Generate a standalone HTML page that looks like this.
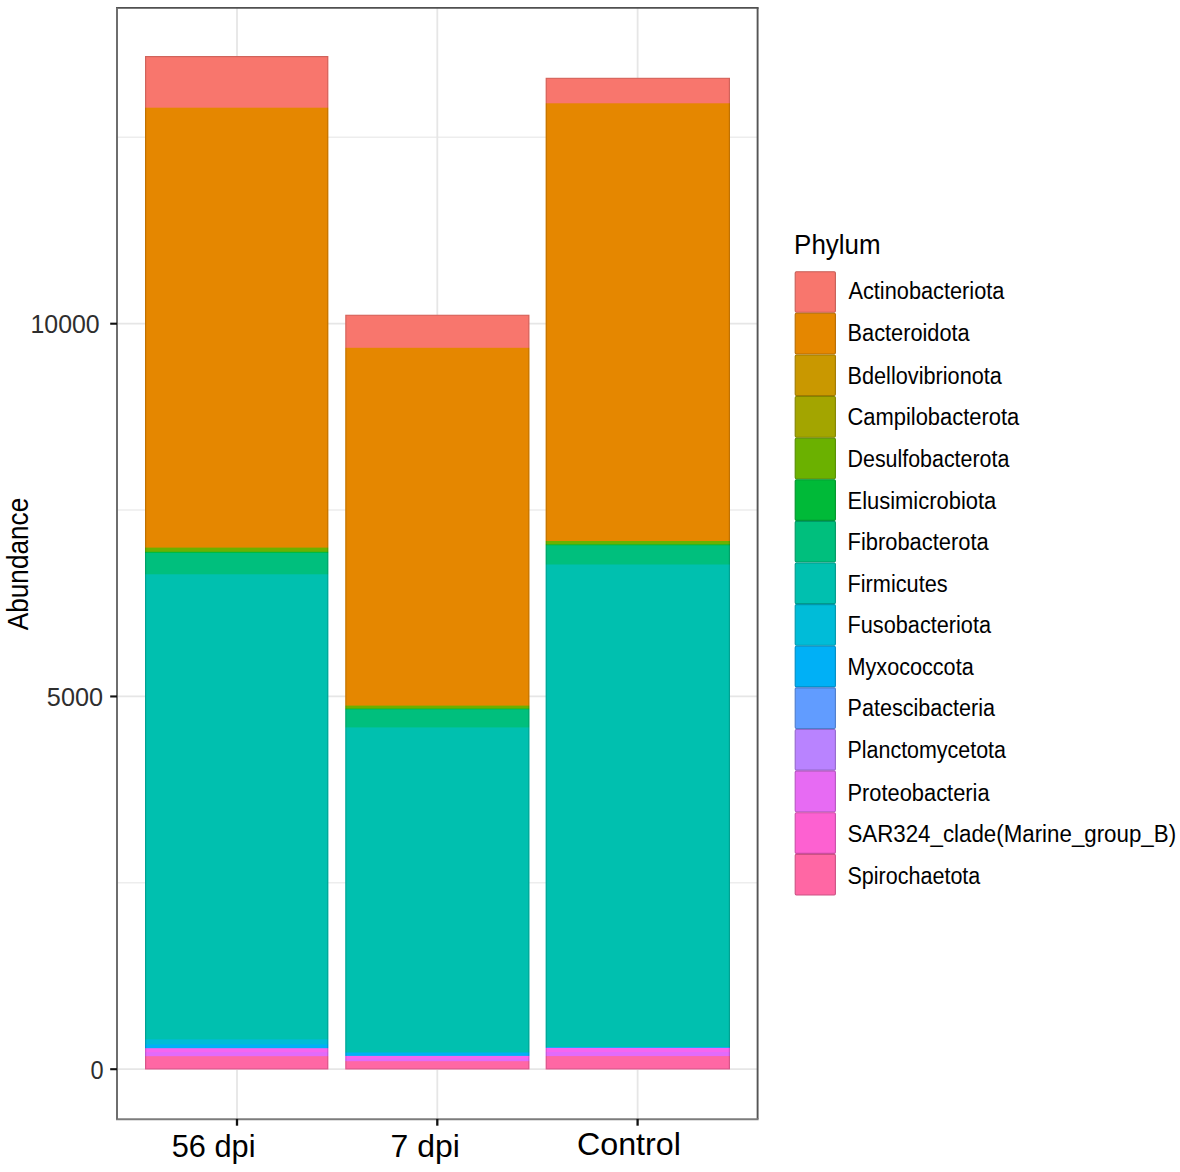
<!DOCTYPE html><html><head><meta charset="utf-8"><style>html,body{margin:0;padding:0;background:#fff;}svg{display:block;}text{font-family:"Liberation Sans",sans-serif;}</style></head><body>
<svg width="1180" height="1172" viewBox="0 0 1180 1172">
<rect x="0" y="0" width="1180" height="1172" fill="#ffffff"/>
<line x1="117.0" x2="757.6" y1="882.83" y2="882.83" stroke="#EDEDED" stroke-width="1.5"/>
<line x1="117.0" x2="757.6" y1="510.08" y2="510.08" stroke="#EDEDED" stroke-width="1.5"/>
<line x1="117.0" x2="757.6" y1="137.33" y2="137.33" stroke="#EDEDED" stroke-width="1.5"/>
<line x1="117.0" x2="757.6" y1="1069.20" y2="1069.20" stroke="#E6E6E6" stroke-width="1.8"/>
<line x1="117.0" x2="757.6" y1="696.45" y2="696.45" stroke="#E6E6E6" stroke-width="1.8"/>
<line x1="117.0" x2="757.6" y1="323.70" y2="323.70" stroke="#E6E6E6" stroke-width="1.8"/>
<line x1="237.0" x2="237.0" y1="7.8" y2="1118.9" stroke="#E6E6E6" stroke-width="1.8"/>
<line x1="437.3" x2="437.3" y1="7.8" y2="1118.9" stroke="#E6E6E6" stroke-width="1.8"/>
<line x1="637.6" x2="637.6" y1="7.8" y2="1118.9" stroke="#E6E6E6" stroke-width="1.8"/>
<clipPath id="cb0"><rect x="145.0" y="56.0" width="183.40" height="1013.60"/></clipPath>
<g clip-path="url(#cb0)" opacity="0.999">
<rect x="142.0" y="56.0" width="189.40" height="1016.60" fill="#F8766D"/>
<rect x="142.0" y="107.7" width="189.40" height="964.90" fill="#E58700"/>
<rect x="142.0" y="547.6" width="189.40" height="525.00" fill="#6BB100"/>
<rect x="142.0" y="551.8" width="189.40" height="520.80" fill="#00BA38"/>
<rect x="142.0" y="552.9" width="189.40" height="519.70" fill="#00BF7D"/>
<rect x="142.0" y="574.3" width="189.40" height="498.30" fill="#00C0AF"/>
<rect x="142.0" y="1039.3" width="189.40" height="33.30" fill="#00BCD8"/>
<rect x="142.0" y="1044.5" width="189.40" height="28.10" fill="#00B0F6"/>
<rect x="142.0" y="1048.2" width="189.40" height="24.40" fill="#F566F0"/>
<rect x="142.0" y="1052.2" width="189.40" height="20.40" fill="#E26BFA"/>
<rect x="142.0" y="1056.2" width="189.40" height="16.40" fill="#FF67A4"/>
<rect x="145.6" y="56.6" width="182.20" height="1012.40" fill="none" stroke="rgba(0,0,0,0.16)" stroke-width="1.2"/>
</g>
<clipPath id="cb1"><rect x="345.2" y="314.5" width="184.30" height="755.10"/></clipPath>
<g clip-path="url(#cb1)" opacity="0.999">
<rect x="342.2" y="314.5" width="190.30" height="758.10" fill="#F8766D"/>
<rect x="342.2" y="347.8" width="190.30" height="724.80" fill="#E58700"/>
<rect x="342.2" y="705.6" width="190.30" height="367.00" fill="#6BB100"/>
<rect x="342.2" y="708.6" width="190.30" height="364.00" fill="#00BA38"/>
<rect x="342.2" y="709.4" width="190.30" height="363.20" fill="#00BF7D"/>
<rect x="342.2" y="727.4" width="190.30" height="345.20" fill="#00C0AF"/>
<rect x="342.2" y="1052.5" width="190.30" height="20.10" fill="#00B0F6"/>
<rect x="342.2" y="1055.9" width="190.30" height="16.70" fill="#F566F0"/>
<rect x="342.2" y="1058.6" width="190.30" height="14.00" fill="#E26BFA"/>
<rect x="342.2" y="1061.2" width="190.30" height="11.40" fill="#FF67A4"/>
<rect x="345.8" y="315.1" width="183.10" height="753.90" fill="none" stroke="rgba(0,0,0,0.16)" stroke-width="1.2"/>
</g>
<clipPath id="cb2"><rect x="545.6" y="77.6" width="184.40" height="992.00"/></clipPath>
<g clip-path="url(#cb2)" opacity="0.999">
<rect x="542.6" y="77.6" width="190.40" height="995.00" fill="#F8766D"/>
<rect x="542.6" y="103.3" width="190.40" height="969.30" fill="#E58700"/>
<rect x="542.6" y="541.0" width="190.40" height="531.60" fill="#6BB100"/>
<rect x="542.6" y="544.4" width="190.40" height="528.20" fill="#00BA38"/>
<rect x="542.6" y="545.3" width="190.40" height="527.30" fill="#00BF7D"/>
<rect x="542.6" y="564.5" width="190.40" height="508.10" fill="#00C0AF"/>
<rect x="542.6" y="1047.0" width="190.40" height="25.60" fill="#00B0F6"/>
<rect x="542.6" y="1047.9" width="190.40" height="24.70" fill="#F566F0"/>
<rect x="542.6" y="1052.0" width="190.40" height="20.60" fill="#E26BFA"/>
<rect x="542.6" y="1056.1" width="190.40" height="16.50" fill="#FF67A4"/>
<rect x="546.2" y="78.19999999999999" width="183.20" height="990.80" fill="none" stroke="rgba(0,0,0,0.16)" stroke-width="1.2"/>
</g>
<line x1="116.0" x2="758.6" y1="7.8" y2="7.8" stroke="#505050" stroke-width="1.8"/>
<line x1="757.6" x2="757.6" y1="7.8" y2="1118.9" stroke="#555555" stroke-width="1.9"/>
<line x1="116.0" x2="758.6" y1="1119.2" y2="1119.2" stroke="#7c7c7c" stroke-width="2"/>
<line x1="117.0" x2="117.0" y1="7.8" y2="1118.9" stroke="#6e6e6e" stroke-width="2"/>
<line x1="110.2" x2="117.0" y1="1069.20" y2="1069.20" stroke="#111111" stroke-width="2.1"/>
<line x1="110.2" x2="117.0" y1="696.45" y2="696.45" stroke="#111111" stroke-width="2.1"/>
<line x1="110.2" x2="117.0" y1="323.70" y2="323.70" stroke="#111111" stroke-width="2.1"/>
<line x1="237.0" x2="237.0" y1="1118.9" y2="1125.7" stroke="#111111" stroke-width="2.3"/>
<line x1="437.3" x2="437.3" y1="1118.9" y2="1125.7" stroke="#111111" stroke-width="2.3"/>
<line x1="637.6" x2="637.6" y1="1118.9" y2="1125.7" stroke="#111111" stroke-width="2.3"/>
<text id="y0" x="90.45" y="1078.8" font-size="25" fill="#2E2E2E" text-anchor="start" textLength="13.10" lengthAdjust="spacingAndGlyphs">0</text>
<text id="y5000" x="46.85" y="706.1" font-size="25" fill="#2E2E2E" text-anchor="start" textLength="56.15" lengthAdjust="spacingAndGlyphs">5000</text>
<text id="y10000" x="30.47" y="333.3" font-size="25" fill="#2E2E2E" text-anchor="start" textLength="69.22" lengthAdjust="spacingAndGlyphs">10000</text>
<text id="x1" x="171.78" y="1156.6" font-size="31" fill="#000" text-anchor="start" textLength="83.74" lengthAdjust="spacingAndGlyphs">56 dpi</text>
<text id="x2" x="390.51" y="1156.6" font-size="31" fill="#000" text-anchor="start" textLength="69.27" lengthAdjust="spacingAndGlyphs">7 dpi</text>
<text id="x3" x="576.96" y="1155.1" font-size="31" fill="#000" text-anchor="start" textLength="103.90" lengthAdjust="spacingAndGlyphs">Control</text>
<text id="ytitle" x="0" y="0" font-size="29" fill="#000" text-anchor="middle" textLength="132.58" lengthAdjust="spacingAndGlyphs" transform="translate(27.8,564) rotate(-90)">Abundance</text>
<text id="phylum" x="794.09" y="253.5" font-size="27" fill="#000" text-anchor="start" textLength="86.47" lengthAdjust="spacingAndGlyphs">Phylum</text>
<rect x="795.2" y="271.70" width="40.2" height="40.62" rx="1.2" fill="#F8766D" stroke="#c65e57" stroke-width="1.1"/>
<rect x="795.2" y="313.32" width="40.2" height="40.62" rx="1.2" fill="#E58700" stroke="#b76c00" stroke-width="1.1"/>
<rect x="795.2" y="354.94" width="40.2" height="40.62" rx="1.2" fill="#C99800" stroke="#a07900" stroke-width="1.1"/>
<rect x="795.2" y="396.56" width="40.2" height="40.62" rx="1.2" fill="#A3A500" stroke="#828400" stroke-width="1.1"/>
<rect x="795.2" y="438.18" width="40.2" height="40.62" rx="1.2" fill="#6BB100" stroke="#558d00" stroke-width="1.1"/>
<rect x="795.2" y="479.80" width="40.2" height="40.62" rx="1.2" fill="#00BA38" stroke="#00942c" stroke-width="1.1"/>
<rect x="795.2" y="521.42" width="40.2" height="40.62" rx="1.2" fill="#00BF7D" stroke="#009864" stroke-width="1.1"/>
<rect x="795.2" y="563.04" width="40.2" height="40.62" rx="1.2" fill="#00C0AF" stroke="#00998c" stroke-width="1.1"/>
<rect x="795.2" y="604.66" width="40.2" height="40.62" rx="1.2" fill="#00BCD8" stroke="#0096ac" stroke-width="1.1"/>
<rect x="795.2" y="646.28" width="40.2" height="40.62" rx="1.2" fill="#00B0F6" stroke="#008cc4" stroke-width="1.1"/>
<rect x="795.2" y="687.90" width="40.2" height="40.62" rx="1.2" fill="#619CFF" stroke="#4d7ccc" stroke-width="1.1"/>
<rect x="795.2" y="729.52" width="40.2" height="40.62" rx="1.2" fill="#B983FF" stroke="#9468cc" stroke-width="1.1"/>
<rect x="795.2" y="771.14" width="40.2" height="40.62" rx="1.2" fill="#E76BF3" stroke="#b855c2" stroke-width="1.1"/>
<rect x="795.2" y="812.76" width="40.2" height="40.62" rx="1.2" fill="#FD61D1" stroke="#ca4da7" stroke-width="1.1"/>
<rect x="795.2" y="854.38" width="40.2" height="40.62" rx="1.2" fill="#FF67A4" stroke="#cc5283" stroke-width="1.1"/>
<text id="L0" x="848.43" y="299.1" font-size="23" fill="#000" text-anchor="start" textLength="155.99" lengthAdjust="spacingAndGlyphs">Actinobacteriota</text>
<text id="L1" x="847.53" y="340.6" font-size="23" fill="#000" text-anchor="start" textLength="122.18" lengthAdjust="spacingAndGlyphs">Bacteroidota</text>
<text id="L2" x="847.54" y="383.9" font-size="23" fill="#000" text-anchor="start" textLength="154.32" lengthAdjust="spacingAndGlyphs">Bdellovibrionota</text>
<text id="L3" x="847.47" y="425.1" font-size="23" fill="#000" text-anchor="start" textLength="171.77" lengthAdjust="spacingAndGlyphs">Campilobacterota</text>
<text id="L4" x="847.57" y="467.0" font-size="23" fill="#000" text-anchor="start" textLength="161.79" lengthAdjust="spacingAndGlyphs">Desulfobacterota</text>
<text id="L5" x="847.51" y="508.5" font-size="23" fill="#000" text-anchor="start" textLength="148.82" lengthAdjust="spacingAndGlyphs">Elusimicrobiota</text>
<text id="L6" x="847.51" y="550.2" font-size="23" fill="#000" text-anchor="start" textLength="141.26" lengthAdjust="spacingAndGlyphs">Fibrobacterota</text>
<text id="L7" x="847.54" y="591.6" font-size="23" fill="#000" text-anchor="start" textLength="100.14" lengthAdjust="spacingAndGlyphs">Firmicutes</text>
<text id="L8" x="847.55" y="632.7" font-size="23" fill="#000" text-anchor="start" textLength="143.47" lengthAdjust="spacingAndGlyphs">Fusobacteriota</text>
<text id="L9" x="847.54" y="674.6" font-size="23" fill="#000" text-anchor="start" textLength="126.13" lengthAdjust="spacingAndGlyphs">Myxococcota</text>
<text id="L10" x="847.55" y="716.3" font-size="23" fill="#000" text-anchor="start" textLength="147.46" lengthAdjust="spacingAndGlyphs">Patescibacteria</text>
<text id="L11" x="847.58" y="757.8" font-size="23" fill="#000" text-anchor="start" textLength="158.33" lengthAdjust="spacingAndGlyphs">Planctomycetota</text>
<text id="L12" x="847.53" y="801.1" font-size="23" fill="#000" text-anchor="start" textLength="142.07" lengthAdjust="spacingAndGlyphs">Proteobacteria</text>
<text id="L13" x="847.44" y="842.0" font-size="23" fill="#000" text-anchor="start" textLength="328.62" lengthAdjust="spacingAndGlyphs">SAR324_clade(Marine_group_B)</text>
<text id="L14" x="847.5" y="883.5" font-size="23" fill="#000" text-anchor="start" textLength="132.81" lengthAdjust="spacingAndGlyphs">Spirochaetota</text>
</svg></body></html>
